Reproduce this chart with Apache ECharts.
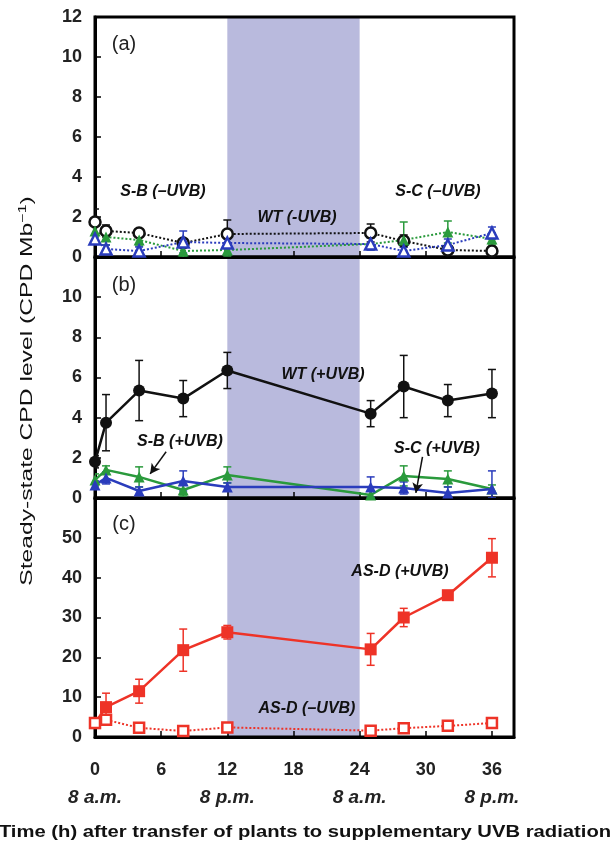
<!DOCTYPE html>
<html>
<head>
<meta charset="utf-8">
<script src="https://cdn.jsdelivr.net/npm/echarts/dist/echarts.min.js"></script>
<style>html,body{margin:0;padding:0;background:#fff;}#c{width:611px;height:845px;}</style>
</head>
<body>
<div id="c"></div>
<script>
// ---- data ----
const hours = [0, 1, 4, 8, 12, 25, 28, 32, 36];
// panel (a): -UVB
const wtMinus = [1.75, 1.3, 1.2, 0.7, 1.15, 1.2, 0.8, 0.35, 0.3];
const wtMinusErr = [0.65, 0.3, 0.2, 0.2, 0.7, 0.45, 0.3, 0.2, 0.2];
const sbMinus = [1.3, 1.0, 0.85, 0.3, 0.35, 0.65, 0.85, 1.25, 0.9];
const sbMinusErr = [0.3, 0.4, 0.3, 0.3, 0.3, 0.3, 0.9, 0.55, 0.3];
const scMinus = [0.9, 0.4, 0.3, 0.75, 0.7, 0.65, 0.3, 0.6, 1.2];
const scMinusErr = [0.2, 0.2, 0.2, 0.55, 0.2, 0.3, 0.2, 0.3, 0.3];
// panel (b): +UVB
const wtPlus = [1.8, 3.75, 5.35, 4.95, 6.35, 4.2, 5.55, 4.85, 5.2];
const wtPlusErr = [0.3, 1.4, 1.5, 0.9, 0.9, 0.65, 1.55, 0.8, 1.2];
const sbPlus = [0.9, 1.4, 1.05, 0.4, 1.15, 0.15, 1.1, 0.95, 0.45];
const sbPlusErr = [0.3, 0.2, 0.5, 0.3, 0.4, 0.2, 0.5, 0.4, 0.2];
const scPlus = [0.65, 1.0, 0.35, 0.85, 0.55, 0.55, 0.5, 0.25, 0.45];
const scPlusErr = [0.2, 0.3, 0.2, 0.5, 0.2, 0.5, 0.3, 0.3, 0.9];
// panel (c): AS-D
const asdPlus = [3.5, 7.5, 11.5, 21.8, 26.3, 22.0, 30.0, 35.6, 45.0];
const asdPlusErr = [0.5, 3.5, 3.0, 5.3, 1.7, 4.0, 2.3, 1.0, 4.8];
const asdMinus = [3.5, 4.3, 2.3, 1.5, 2.4, 1.6, 2.2, 2.8, 3.5];
const asdMinusErr = [0.3, 0.8, 0.5, 0.4, 0.5, 0.3, 0.4, 0.5, 0.5];
// dark period band (h)
const darkPeriod = [12, 24];
// axis ticks
const xTicks = [0, 6, 12, 18, 24, 30, 36];
const clockLabels = ['8 a.m.', '', '8 p.m.', '', '8 a.m.', '', '8 p.m.'];
const yMaxAB = 12, yMaxC = 60;
const xTitle = 'Time (h) after transfer of plants to supplementary UVB radiation';

// ---- styling ----
const FONT = '"Liberation Sans", Arial, Helvetica, sans-serif';
const BLACK = '#111', GREEN = '#2a9a3c', BLUE = '#2a3cbc', RED = '#ee3327', BAND = '#b9badd';

const grids = [
  {left: 95, width: 419, top: 17, height: 240},
  {left: 95, width: 419, top: 257, height: 241},
  {left: 95, width: 419, top: 498, height: 239}
].map(g => Object.assign(g, {show: true, borderColor: '#000', borderWidth: 3, backgroundColor: 'transparent', z: 1}));

function xAxis(i, bottom) {
  return {
    type: 'value', gridIndex: i, min: 0, max: 38, interval: 6, z: 1,
    axisLine: {show: true, lineStyle: {color: '#000', width: 3}},
    axisTick: {show: true, inside: true, length: 6, lineStyle: {color: '#000', width: 1.5}},
    splitLine: {show: false},
    axisLabel: bottom ? {
      show: true, margin: 19, showMaxLabel: false,
      formatter: v => {
        const k = xTicks.indexOf(v);
        if (k < 0) return '';
        return '{n|' + v + '}\n{t|' + (clockLabels[k] || ' ') + '}';
      },
      rich: {
        n: {fontFamily: FONT, fontSize: 18, fontWeight: 'bold', color: '#222', lineHeight: 28},
        t: {fontFamily: FONT, fontSize: 19, fontWeight: 'bold', fontStyle: 'italic', color: '#222', lineHeight: 28}
      }
    } : {show: false}
  };
}
function yAxis(i, max, interval, showMax) {
  return {
    type: 'value', gridIndex: i, min: 0, max: max, interval: interval, z: 1,
    axisLine: {show: true, lineStyle: {color: '#000', width: 3}},
    axisTick: {show: true, inside: true, length: 6, lineStyle: {color: '#000', width: 1.5}},
    splitLine: {show: false},
    axisLabel: {show: true, margin: 13, showMaxLabel: showMax, fontFamily: FONT, fontSize: 18, fontWeight: 'bold', color: '#222'}
  };
}

function band(i, ymax) {
  return {
    type: 'custom', xAxisIndex: i, yAxisIndex: i, z: 0, silent: true,
    data: [[darkPeriod[0], darkPeriod[1], ymax]],
    renderItem: (p, api) => {
      const a = api.coord([api.value(0), api.value(2)]);
      const b = api.coord([api.value(1), 0]);
      return {type: 'rect', shape: {x: a[0], y: a[1], width: b[0] - a[0], height: b[1] - a[1]}, style: {fill: BAND}};
    }
  };
}
function errBars(i, vals, errs, color) {
  return {
    type: 'custom', xAxisIndex: i, yAxisIndex: i, z: 3, silent: true, clip: true,
    data: hours.map((h, k) => [h, Math.max(0, vals[k] - errs[k]), vals[k] + errs[k]]),
    renderItem: (p, api) => {
      const x = api.value(0);
      const lo = api.coord([x, api.value(1)]);
      const hi = api.coord([x, api.value(2)]);
      const w = 4;
      const st = {stroke: color, lineWidth: 1.5};
      return {type: 'group', children: [
        {type: 'line', shape: {x1: lo[0], y1: lo[1], x2: hi[0], y2: hi[1]}, style: st},
        {type: 'line', shape: {x1: hi[0] - w, y1: hi[1], x2: hi[0] + w, y2: hi[1]}, style: st},
        {type: 'line', shape: {x1: lo[0] - w, y1: lo[1], x2: lo[0] + w, y2: lo[1]}, style: st}
      ]};
    }
  };
}
function line(i, vals, color, symbol, hollow, dotted, size, extra) {
  return Object.assign({
    type: 'line', xAxisIndex: i, yAxisIndex: i, z: 4, silent: true, animation: false,
    data: hours.map((h, k) => [h, vals[k]]),
    symbol: symbol, symbolSize: size, showAllSymbol: true,
    lineStyle: {color: color, width: dotted ? 2 : 2.5, type: dotted ? [2, 2] : 'solid'},
    itemStyle: {color: hollow ? '#fff' : color, borderColor: color, borderWidth: hollow ? 2.5 : 0, opacity: 1}
  }, extra || {});
}
function arrow(from, to) {
  return {
    silent: true, symbol: ['none', 'arrow'], symbolSize: [8, 10],
    label: {show: false},
    lineStyle: {color: '#111', width: 1.5, type: 'solid'},
    data: [[{coord: from}, {coord: to}]]
  };
}

const series = [
  band(0, yMaxAB), band(1, yMaxAB), band(2, yMaxC),
  errBars(0, wtMinus, wtMinusErr, BLACK),
  errBars(0, sbMinus, sbMinusErr, GREEN),
  errBars(0, scMinus, scMinusErr, BLUE),
  line(0, wtMinus, BLACK, 'circle', true, true, 11),
  line(0, sbMinus, GREEN, 'triangle', false, true, 11),
  line(0, scMinus, BLUE, 'triangle', true, true, 11),
  errBars(1, wtPlus, wtPlusErr, BLACK),
  errBars(1, sbPlus, sbPlusErr, GREEN),
  errBars(1, scPlus, scPlusErr, BLUE),
  line(1, wtPlus, BLACK, 'circle', false, false, 12),
  line(1, sbPlus, GREEN, 'triangle', false, false, 11, {markLine: arrow([6.45, 2.3], [5.0, 1.2])}),
  line(1, scPlus, BLUE, 'triangle', false, false, 11, {markLine: arrow([29.7, 2.05], [29.1, 0.25])}),
  errBars(2, asdPlus, asdPlusErr, RED),
  errBars(2, asdMinus, asdMinusErr, RED),
  line(2, asdPlus, RED, 'rect', false, false, 12),
  line(2, asdMinus, RED, 'rect', true, true, 10)
];

function txt(x, y, s, opt, extra) {
  return Object.assign({type: 'text', x: x, y: y, z: 50, silent: true, style: Object.assign({
    text: s, fontFamily: FONT, fontSize: 16, fontWeight: 'bold', fontStyle: 'italic',
    fill: '#111', align: 'center', verticalAlign: 'middle'}, opt || {})}, extra || {});
}
const plain = {fontSize: 20, fontWeight: 'normal', fontStyle: 'normal', fill: '#222'};
const graphics = [
  txt(124, 44, '(a)', plain),
  txt(124, 285, '(b)', plain),
  txt(124, 524, '(c)', plain),
  txt(163, 192, 'S-B (–UVB)'),
  txt(297, 218, 'WT (-UVB)'),
  txt(438, 192, 'S-C (–UVB)'),
  txt(323, 375, 'WT (+UVB)'),
  txt(180, 442, 'S-B (+UVB)'),
  txt(437, 449, 'S-C (+UVB)'),
  txt(400, 572, 'AS-D (+UVB)'),
  txt(307, 709, 'AS-D (–UVB)'),
  // x-axis title
  txt(305, 832, xTitle, {fontSize: 17, fontStyle: 'normal', fill: '#111'}, {scaleX: 1.19}),
  // y-axis title (rotated)
  {type: 'text', x: 27, y: 391, rotation: Math.PI / 2, scaleX: 1.45, z: 50, silent: true,
   style: {text: '{m|Steady-state CPD level (CPD Mb}{s|−1}{m|)}', align: 'center', verticalAlign: 'middle',
     rich: {
       m: {fontFamily: FONT, fontSize: 17, fill: '#111', lineHeight: 20},
       s: {fontFamily: FONT, fontSize: 11, fill: '#111', lineHeight: 20, padding: [0, 0, 9, 0]}
     }}}
];

const chart = echarts.init(document.getElementById('c'), null, {renderer: 'canvas'});
chart.setOption({
  animation: false,
  backgroundColor: '#fff',
  grid: grids,
  xAxis: [xAxis(0, false), xAxis(1, false), xAxis(2, true)],
  yAxis: [yAxis(0, yMaxAB, 2, true), yAxis(1, yMaxAB, 2, false), yAxis(2, yMaxC, 10, false)],
  series: series,
  graphic: graphics
});
</script>
</body>
</html>
